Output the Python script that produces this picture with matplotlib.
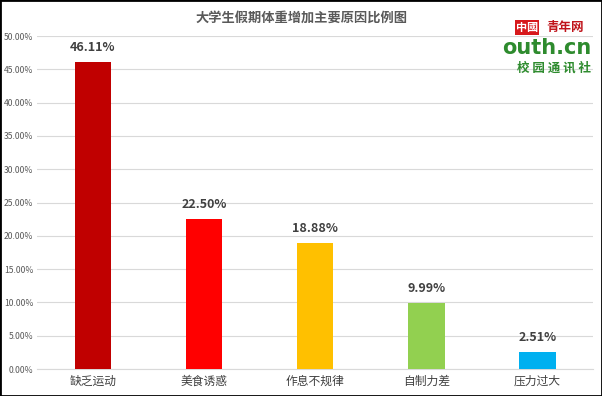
import matplotlib
matplotlib.use("Agg")
import matplotlib.pyplot as plt
from matplotlib.patches import Rectangle

plt.rcParams['font.family'] = ['Noto Sans CJK SC', 'DejaVu Sans']

categories = ['缺乏运动', '美食诱惑', '作息不规律', '自制力差', '压力过大']
values = [46.11, 22.50, 18.88, 9.99, 2.51]
colors = ['#C00000', '#FF0000', '#FFC000', '#92D050', '#00B0F0']
title = '大学生假期体重增加主要原因比例图'

fig = plt.figure(figsize=(6.02, 3.96), dpi=100)
ax = fig.add_axes([0.062, 0.068, 0.923, 0.841])

x = range(len(categories))
ax.bar(x, values, width=0.33, color=colors, zorder=3)
for i, v in zip(x, values):
    ax.text(i, v + 1.2, '%.2f%%' % v, ha='center', va='bottom',
            fontsize=9, fontweight='bold', color='#404040')

ax.set_xlim(-0.5, len(categories) - 0.5)
ax.set_ylim(0, 50)
ax.set_yticks([i * 5 for i in range(11)])
ax.set_yticklabels(['%.2f%%' % (i * 5) for i in range(11)], fontsize=6.2, color='#595959')
ax.set_xticks(list(x))
ax.set_xticklabels(categories, fontsize=8.5, color='#404040')
ax.tick_params(axis='y', length=0, pad=3)
ax.tick_params(axis='x', length=0, pad=4)
ax.yaxis.grid(True, color='#D9D9D9', linewidth=0.8, zorder=0)
for s in ['top', 'right', 'left']:
    ax.spines[s].set_visible(False)
ax.spines['bottom'].set_color('#D9D9D9')

fig.text(0.5, 0.955, title, ha='center', va='center', fontsize=9.5,
         fontweight='bold', color='#595959')

# watermark logo text
fig.text(0.857, 0.93, '中國', ha='left', va='center', fontsize=8,
         color='white', fontweight='bold',
         bbox=dict(boxstyle='square,pad=0.1', fc='#D7191C', ec='none'))
fig.text(0.908, 0.93, '青年网', ha='left', va='center', fontsize=9,
         color='#C0141B', fontweight='bold')
fig.text(0.982, 0.879, 'outh.cn', ha='right', va='center', fontsize=15,
         color='#2E8B2E', fontweight='bold', family='DejaVu Sans')
fig.text(0.982, 0.828, '校 园 通 讯 社', ha='right', va='center', fontsize=9,
         color='#2E8B2E', fontweight='bold')

fig.patches.append(Rectangle((0, 0), 1, 1, transform=fig.transFigure,
                             fill=False, ec='black', lw=2))

fig.savefig('out.png', dpi=100)
